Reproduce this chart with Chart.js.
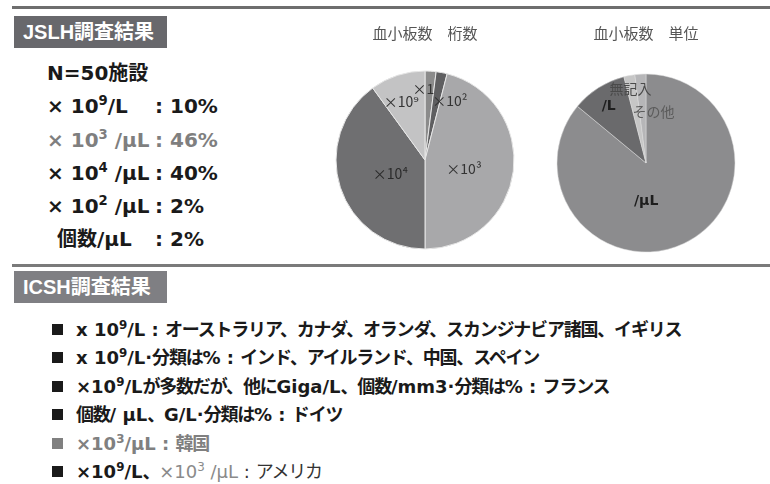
<!DOCTYPE html>
<html>
<head>
<meta charset="utf-8">
<script src="https://cdn.jsdelivr.net/npm/chart.js@4.4.1/dist/chart.umd.min.js"></script>
<style>
  body { margin: 0; width: 770px; height: 484px; background: #fff; position: relative; overflow: hidden;
         font-family: "DejaVu Sans", "Noto Sans CJK JP", sans-serif; }
  .rule { position: absolute; left: 12px; right: 0; height: 3px; }
  .head { position: absolute; left: 14px; width: 153px; height: 32px; line-height: 32px; color: #fff;
          font-family: "Liberation Sans", "Noto Sans CJK JP", sans-serif; font-weight: bold; font-size: 20px;
          padding-left: 9px; box-sizing: border-box; }
  .row { position: absolute; font-weight: bold; font-size: 20px; line-height: 24px; white-space: pre; color: #1a1a1a; }
  .row .lhs { display: inline-block; width: 108px; }
  .item { position: absolute; left: 52px; font-weight: bold; font-size: 18px; line-height: 24px; white-space: pre; color: #1a1a1a; }
  .item .sq { display: inline-block; width: 11px; height: 11px; background: #1a1a1a; margin-right: 13px; vertical-align: 1px; }
  .j { font-size: 18px; letter-spacing: -1.2px; }
  sup { font-size: .66em; line-height: 0; vertical-align: .6em; }
  canvas { position: absolute; }
</style>
</head>
<body>
<div class="rule" style="top:6px;background:#6e6e6e"></div>
<div class="head" style="top:16px;background:#68686c">JSLH調査結果</div>

<div class="row" style="left:47px;top:61px">N=50施設</div>
<div class="row" style="left:47px;top:94px"><span class="lhs">× 10<sup>9</sup>/L</span>: 10%</div>
<div class="row" style="left:47px;top:128px;color:#7f7f7f"><span class="lhs">× 10<sup>3</sup> /μL</span>: 46%</div>
<div class="row" style="left:47px;top:161px"><span class="lhs">× 10<sup>4</sup> /μL</span>: 40%</div>
<div class="row" style="left:47px;top:194px"><span class="lhs">× 10<sup>2</sup> /μL</span>: 2%</div>
<div class="row" style="left:57px;top:227px"><span class="lhs" style="width:98px">個数/μL</span>: 2%</div>

<canvas id="pieDigits" width="200" height="245" style="left:325px;top:15px"></canvas>
<canvas id="pieUnits" width="200" height="245" style="left:546px;top:18px"></canvas>

<div class="rule" style="top:264px;background:#7a7a7a"></div>
<div class="head" style="top:271px;background:#7f7f83">ICSH調査結果</div>

<div class="item" style="top:318px"><span class="sq"></span>x 10<sup>9</sup>/L : <span class="j">オーストラリア、カナダ、オランダ、スカンジナビア諸国、イギリス</span></div>
<div class="item" style="top:346px"><span class="sq"></span>x 10<sup>9</sup>/L·<span class="j">分類は</span>% : <span class="j">インド、アイルランド、中国、スペイン</span></div>
<div class="item" style="top:375px"><span class="sq"></span>×10<sup>9</sup>/L<span class="j">が多数だが、他に</span>Giga/L<span class="j">、個数</span>/mm3·<span class="j">分類は</span>% : <span class="j">フランス</span></div>
<div class="item" style="top:403px"><span class="sq"></span><span class="j">個数</span>/ μL<span class="j">、</span>G/L·<span class="j">分類は</span>% : <span class="j">ドイツ</span></div>
<div class="item" style="top:432px;color:#808080"><span class="sq" style="background:#808080"></span>×10<sup>3</sup>/μL : <span class="j">韓国</span></div>
<div class="item" style="top:460px"><span class="sq"></span>×10<sup>9</sup>/L<span class="j">、</span><span style="color:#8a8a8a;font-weight:normal">×10<sup>3</sup> /μL</span><span style="color:#333;font-weight:normal"> : <span class="j">アメリカ</span></span></div>

<script>
// 血小板数 桁数 (JSLH, N=50)
const digitLabels = ['×1', '×10²', '×10³', '×10⁴', '×10⁹'];
const digitValues = [2, 2, 46, 40, 10];
const digitColors = ['#8b8b8b', '#5f5f61', '#a8a8aa', '#6f6f71', '#c3c3c4'];

// 血小板数 単位
const unitLabels = ['/μL', '/L', '無記入', 'その他'];
const unitValues = [86, 10, 2, 2];
const unitColors = ['#8c8c8e', '#6a6a6c', '#c6c6c6', '#b6b6b8'];

// draws the category names inside the pie, [angle shift in deg, radius fraction]
const sliceText = {
  id: 'sliceText',
  afterDatasetsDraw(chart, args, opts) {
    const ctx = chart.ctx;
    const arcs = chart.getDatasetMeta(0).data;
    ctx.save();
    ctx.textAlign = 'center';
    ctx.textBaseline = 'middle';
    arcs.forEach((arc, i) => {
      const p = opts.place[i];
      const mid = (arc.startAngle + arc.endAngle) / 2 + p[0] * Math.PI / 180;
      const r = arc.outerRadius * p[1];
      ctx.font = opts.fonts[i];
      ctx.fillStyle = opts.colors[i];
      ctx.fillText(chart.data.labels[i], arc.x + Math.cos(mid) * r, arc.y + Math.sin(mid) * r);
    });
    ctx.restore();
  }
};

function pieOptions(title, titleTop, place, fonts, colors) {
  return {
    responsive: false,
    animation: { duration: 0 },
    radius: 89,
    plugins: {
      legend: { display: false },
      tooltip: { enabled: false },
      title: {
        display: true,
        text: title,
        color: '#555',
        font: { family: '"Noto Sans CJK JP"', size: 15, weight: 'normal' },
        padding: { top: titleTop, bottom: 45 - titleTop - 18 }
      },
      sliceText: { place: place, fonts: fonts, colors: colors }
    }
  };
}

new Chart(document.getElementById('pieDigits'), {
  type: 'pie',
  data: {
    labels: digitLabels,
    datasets: [{ data: digitValues, backgroundColor: digitColors, borderColor: '#e6e6e6', borderWidth: 1 }]
  },
  options: pieOptions('血小板数　桁数', 9,
    [[-5, 0.8], [12, 0.72], [6, 0.45], [-4, 0.42], [-4, 0.71]],
    Array(5).fill('14px "Noto Sans CJK JP", "DejaVu Sans"'),
    ['#333', '#333', '#333', '#2a2a2a', '#333']),
  plugins: [sliceText]
});

new Chart(document.getElementById('pieUnits'), {
  type: 'pie',
  data: {
    labels: unitLabels,
    datasets: [{ data: unitValues, backgroundColor: unitColors, borderColor: '#dcdcdc', borderWidth: 0.5 }]
  },
  options: pieOptions('血小板数　単位', 6,
    [[25, 0.43], [-1, 0.76], [-1, 0.85], [12, 0.58]],
    ['bold 14px "DejaVu Sans"', 'bold 14px "DejaVu Sans"', '14px "Noto Sans CJK JP"', '14px "Noto Sans CJK JP"'],
    ['#1e1e1e', '#1e1e1e', '#4a4a4a', '#5c5c5c']),
  plugins: [sliceText]
});
</script>
</body>
</html>
